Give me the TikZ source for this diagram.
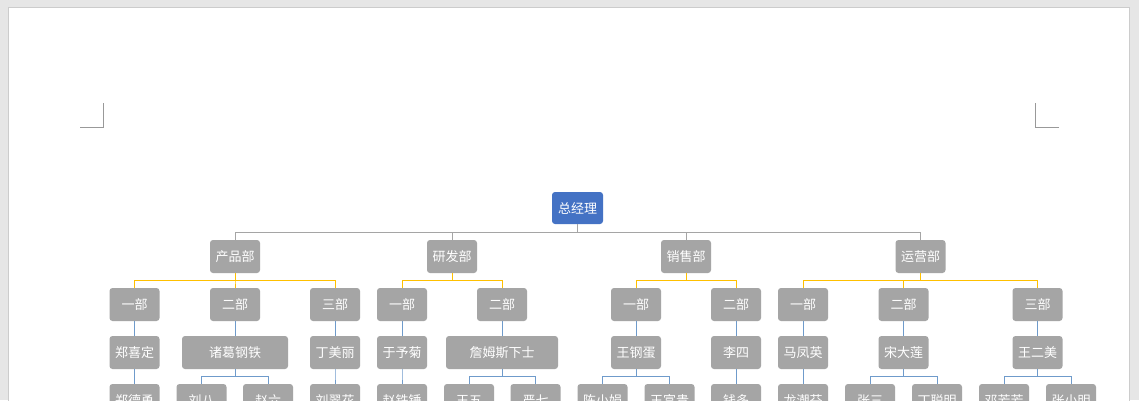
\documentclass[tikz,border=0pt]{standalone}
\usepackage{fontspec}
\setmainfont{Noto Sans CJK SC}
\usetikzlibrary{positioning}
\definecolor{boxgray}{HTML}{A5A5A5}
\definecolor{rootblue}{HTML}{4472C4}
\definecolor{lvlgold}{HTML}{FFC000}
\definecolor{lvlblue}{HTML}{6F9BCB}
\definecolor{pagegray}{HTML}{E6E6E6}

\begin{document}
\begin{tikzpicture}[x=1pt,y=-1pt,
  font=\fontsize{13}{15}\selectfont,
  unit/.style={fill=boxgray,text=white,rounded corners=3pt,minimum width=50pt,
               minimum height=33pt,inner sep=0pt},
  chief/.style={unit,fill=rootblue,minimum width=51pt,minimum height=32pt},
  widebox/.style={unit,minimum width=#1},
  ln1/.style={draw=boxgray,line width=0.8pt},
  ln2/.style={draw=lvlgold,line width=0.8pt},
  ln3/.style={draw=lvlblue,line width=0.8pt},
  cropmark/.style={draw=black!40,line width=0.6pt}
]
% page
\useasboundingbox (0,0) rectangle (1139,400);
\clip (0,0) rectangle (1139,400);
\fill[pagegray] (0,0) rectangle (1139,400);
\filldraw[fill=white,draw=black!20] (8,7) rectangle (1129,420);
\draw[cropmark] (80,127) -- (103,127) -- (103,103);
\draw[cropmark] (1059,127) -- (1035,127) -- (1035,103);

% top
\node[chief] (gm) at (577.5,208) {总经理};

% departments
\node[unit] (cp) at (235,256.5) {产品部};
\node[unit] (yf) at (452,256.5) {研发部};
\node[unit] (xs) at (686,256.5) {销售部};
\node[unit] (yy) at (920.5,256.5) {运营部};

% sections
\node[unit] (cp1) at (134.5,304.5) {一部};
\node[unit] (cp2) at (235,304.5) {二部};
\node[unit] (cp3) at (335,304.5) {三部};
\node[unit] (yf1) at (402,304.5) {一部};
\node[unit] (yf2) at (502,304.5) {二部};
\node[unit] (xs1) at (636,304.5) {一部};
\node[unit] (xs2) at (736,304.5) {二部};
\node[unit] (yy1) at (803,304.5) {一部};
\node[unit] (yy2) at (903.5,304.5) {二部};
\node[unit] (yy3) at (1037.5,304.5) {三部};

% heads
\node[unit] (cp1h) at (134.5,352.5) {郑喜定};
\node[widebox=106pt] (cp2h) at (235,352.5) {诸葛钢铁};
\node[unit] (cp3h) at (335,352.5) {丁美丽};
\node[unit] (yf1h) at (402,352.5) {于予菊};
\node[widebox=112pt] (yf2h) at (502,352.5) {詹姆斯下士};
\node[unit] (xs1h) at (636,352.5) {王钢蛋};
\node[unit] (xs2h) at (736,352.5) {李四};
\node[unit] (yy1h) at (803,352.5) {马凤英};
\node[unit] (yy2h) at (903.5,352.5) {宋大莲};
\node[unit] (yy3h) at (1037.5,352.5) {王二美};

% staff
\node[unit] (m1) at (134.5,400.5) {郑德勇};
\node[unit] (m2) at (201.5,400.5) {刘八};
\node[unit] (m3) at (268,400.5) {赵六};
\node[unit] (m4) at (335,400.5) {刘翠花};
\node[unit] (m5) at (402,400.5) {赵铁锤};
\node[unit] (m6) at (469,400.5) {王五};
\node[unit] (m7) at (535.5,400.5) {严七};
\node[unit] (m8) at (602.5,400.5) {陈小娟};
\node[unit] (m9) at (669.5,400.5) {王富贵};
\node[unit] (m10) at (736,400.5) {钱多};
\node[unit] (m11) at (803,400.5) {龙潮芬};
\node[unit] (m12) at (870,400.5) {张三};
\node[unit] (m13) at (937,400.5) {丁聪明};
\node[unit] (m14) at (1004,400.5) {邓芳芳};
\node[unit] (m15) at (1071,400.5) {张小明};

% connectors
\foreach \z in {cp,yf,xs,yy}{\draw[ln1] (gm.south) -- ++(0,8) -| (\z.north);}
\foreach \x/\z in {cp/cp1,cp/cp2,cp/cp3,yf/yf1,yf/yf2,xs/xs1,xs/xs2,yy/yy1,yy/yy2,yy/yy3}
  {\draw[ln2] (\x.south) -- ++(0,7) -| (\z.north);}
\foreach \x in {cp1,cp2,cp3,yf1,yf2,xs1,xs2,yy1,yy2,yy3}{\draw[ln3] (\x.south) -- (\x h.north);}
\foreach \x/\z in {cp1h/m1,cp2h/m2,cp2h/m3,cp3h/m4,yf1h/m5,yf2h/m6,yf2h/m7,xs1h/m8,xs1h/m9,
                   xs2h/m10,yy1h/m11,yy2h/m12,yy2h/m13,yy3h/m14,yy3h/m15}
  {\draw[ln3] (\x.south) -- ++(0,7) -| (\z.north);}
\end{tikzpicture}
\end{document}
